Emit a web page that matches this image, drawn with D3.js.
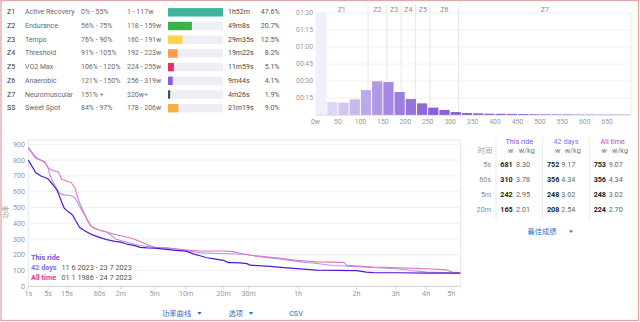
<!DOCTYPE html>
<html><head><meta charset="utf-8">
<script src="https://cdn.jsdelivr.net/npm/d3@7/dist/d3.min.js"></script>
<style>
html,body{margin:0;padding:0;background:#fff;overflow:hidden;}
svg{display:block;font-family:Roboto,"Noto Sans CJK SC",sans-serif;}
</style></head><body>
<svg id="chart" width="640" height="322"></svg>
<script>
// ---- zone summary ----
const zoneCodes = ["Z1","Z2","Z3","Z4","Z5","Z6","Z7","SS"];
const zoneNames = ["Active Recovery","Endurance","Tempo","Threshold","VO2 Max","Anaerobic","Neuromuscular","Sweet Spot"];
const zoneRanges = ["0% - 55%","56% - 75%","76% - 90%","91% - 105%","106% - 120%","121% - 150%","151% +","84% - 97%"];
const zoneWatts = ["1 - 117w","118 - 159w","160 - 191w","192 - 223w","224 - 255w","256 - 319w","320w+","178 - 206w"];
const zoneTimes = ["1h52m","49m8s","29m35s","19m22s","11m59s","9m44s","4m26s","21m19s"];
const zoneShare = [47.6,20.7,12.5,8.2,5.1,4.1,1.9,9.0];
const zoneColors = ["#3fb59b","#3bb249","#f9d648","#f99b4d","#e2306b","#8b5bd9","#4c4c68","#f8b045"];

// ---- power histogram (minutes per 25w bin) ----
const binWidth = 25;
const binStarts = [25,50,75,100,125,150,175,200,225,250,275,300,325,350,375,400,425,450,475,500,525,550,575,600,625,650,675];
const binMinutes = [11.5,10.9,13.8,22,29.7,29.1,20.3,14.1,10.3,6.5,4.4,2.6,1.8,1.5,1.2,1.1,1.0,0.9,0.7,0.6,0.5,0.5,0.4,0.4,0.3,0.3,0.3];
const coastMinutes = 95;
const zoneBounds = [117,159,191,223,255,319];
const histZoneLabels = ["Z1","Z2","Z3","Z4","Z5","Z6","Z7"];
const histYTicks = [15,30,45,60,75,90];
const histYLabels = ["00:15","00:30","00:45","01:00","01:15","01:30"];
const histXTicks = [0,50,100,150,200,250,300,350,400,450,500,550,600,650];
const histXLabels = ["0w","50","100","150","200","250","300","350","400","450","500","550","600","650"];

// ---- power curves (seconds, watts) ----
const rideTimes = [1,2,3,4,5,6,7,8.6,10,11.5,13,15,17.5,20,22,24,27,31,37,45,54,60,77,101,120,144,180,208,250,300,397,480,600,692,800,892,1000,1132,1200,1300,1413,1574,1752,1840,2470,3000,3552,4566,5783,7228,8000,8622,10910,14487,18100,19450];
const rideWatts = [800,720,700,690,681,660,641,612,572,530,495,480,465,450,425,405,375,360,344,328,317,310,296,285,280,268,258,247,244,242,234,228,223,206,192,181,175,168,165,150,150,148,144,134,126,118,112,103,101,99,90,87,86,84,84,83];
const days42Times = [1,2,3,4,5,5.5,6.5,8.6,10.3,13,17.5,20,22.3,25,27.7,32,36.7,41,45,50,60,77,90,101,120,144,207,300,460,600,789,1200,1752,2042,2800,3552,4566,5547,8040,10910,12500,14487,18100,19450];
const days42Watts = [875,811,800,790,752,712,673,620,588,580,576,570,557,530,503,465,429,400,376,370,356,344,322,302,290,280,259,248,238,227,212,208,202,189,174,158,145,132,121,111,100,90,86,84];
const allTimeTimes = [1,2,3,4,5,6,7,9.3,10.5,11.4,13.4,16,18.4,22.3,25.8,31.4,37.8,44,47.6,60,77,101,130,173,256,300,397,600,789,1200,1400,1574,1840,2700,3552,4566,6230,6474,8622,11255,14487,17300,18100,19450];
const allTimeWatts = [881,818,800,785,753,740,733,726,700,678,673,662,660,620,546,482,418,380,372,356,344,329,317,302,262,248,245,230,224,224,220,210,197,181,165,155,152,133,122,117,111,104,90,84];
const curveXTicks = [1,5,15,60,120,300,600,1200,1800,3600,7200,10800,14400,18000];
const curveXLabels = ["1s","5s","15s","60s","2m","5m","10m","20m","30m","1h","2h","3h","4h","5h"];
const curveYTicks = [0,100,200,300,400,500,600,700,800,900];

// ---- best efforts table ----
const bestDurations = ["5s","60s","5m","20m"];
const bestRide = [[681,"8.30"],[310,"3.78"],[242,"2.95"],[165,"2.01"]];
const best42 = [[752,"9.17"],[356,"4.34"],[248,"3.02"],[208,"2.54"]];
const bestAll = [[753,"9.07"],[356,"4.34"],[248,"3.02"],[224,"2.70"]];

const C_RIDE = "#5416d2", C_42 = "#a89af0", C_ALL = "#e276bd";
const T_RIDE = "#7a56d8", T_42 = "#8274e6", T_ALL = "#d23ba2";

const svg = d3.select("#chart");

// outer frame
svg.append("rect").attr("x",1).attr("y",0.5).attr("width",637.5).attr("height",320)
  .attr("fill","none").attr("stroke","#e2a8a8").attr("stroke-width",1.3);

// ===== zone table =====
const rowY = i => 12.3 + i*13.7;
const zt = svg.append("g").attr("font-size",7).attr("dominant-baseline","central");
const barScale = d3.scaleLinear().domain([0,d3.max(zoneShare)]).range([0,55]);
zoneCodes.forEach((c,i)=>{
  const y = rowY(i);
  zt.append("text").attr("x",7).attr("y",y).attr("fill","#333").text(c);
  zt.append("text").attr("x",25).attr("y",y).attr("fill","#6a6a6a").text(zoneNames[i]);
  zt.append("text").attr("x",81).attr("y",y).attr("fill","#6a6a6a").text(zoneRanges[i]);
  zt.append("text").attr("x",127).attr("y",y).attr("fill","#6a6a6a").text(zoneWatts[i]);
  zt.append("rect").attr("x",168).attr("y",y-4.2).attr("width",55).attr("height",8.4).attr("fill","#eeeef7");
  zt.append("rect").attr("x",168).attr("y",y-4.2).attr("width",barScale(zoneShare[i])).attr("height",8.4).attr("fill",zoneColors[i]);
  zt.append("text").attr("x",228).attr("y",y).attr("fill","#444").text(zoneTimes[i]);
  zt.append("text").attr("x",279.5).attr("y",y).attr("text-anchor","end").attr("fill","#555").text(zoneShare[i].toFixed(1)+"%");
});

// ===== histogram =====
const hx = d3.scaleLinear().domain([0,703]).range([315.5,631]);
const hy = d3.scaleLinear().domain([0,90]).range([115,13]);
const hg = svg.append("g");
hg.selectAll(".hgrid").data(histYTicks).join("line")
  .attr("x1",315.5).attr("x2",631).attr("y1",d=>hy(d)).attr("y2",d=>hy(d))
  .attr("stroke","#ececec").attr("stroke-width",0.8);
hg.append("line").attr("x1",631).attr("x2",631).attr("y1",13).attr("y2",115).attr("stroke","#e4e4e4").attr("stroke-width",0.8);
hg.append("rect").attr("x",hx(0)).attr("y",hy(Math.min(coastMinutes,90)))
  .attr("width",hx(binWidth)-hx(0)).attr("height",hy(0)-hy(Math.min(coastMinutes,90))).attr("fill","#f1eff9");
hg.selectAll(".zl").data(zoneBounds).join("line")
  .attr("x1",d=>hx(d)).attr("x2",d=>hx(d)).attr("y1",5).attr("y2",115)
  .attr("stroke","#e0e0e0").attr("stroke-width",0.8);
const zoneEdges = [0,...zoneBounds,703];
hg.selectAll(".zt").data(histZoneLabels).join("text")
  .attr("x",(d,i)=>(hx(zoneEdges[i])+hx(zoneEdges[i+1]))/2).attr("y",9.5)
  .attr("text-anchor","middle").attr("dominant-baseline","central")
  .attr("font-size",7).attr("fill","#8a8a8a").text(d=>d);
const binColor = d3.scaleLinear().domain([37,112,160,260]).range(["#dfd7f4","#bda9ea","#a68ae3","#8b5fd9"]).clamp(true);
hg.selectAll(".bar").data(binStarts).join("rect")
  .attr("x",d=>hx(d)+0.5).attr("width",d=>hx(d+binWidth)-hx(d)-1)
  .attr("y",(d,i)=>hy(binMinutes[i])).attr("height",(d,i)=>hy(0)-hy(binMinutes[i]))
  .attr("fill",d=>binColor(d+12.5));
hg.append("line").attr("x1",315.5).attr("x2",631).attr("y1",115.3).attr("y2",115.3).attr("stroke","#d8d8d8").attr("stroke-width",0.8);
hg.selectAll(".hyl").data(histYTicks).join("text")
  .attr("x",313).attr("y",d=>hy(d)).attr("text-anchor","end").attr("dominant-baseline","central")
  .attr("font-size",6.8).attr("fill","#999").text((d,i)=>histYLabels[i]);
hg.selectAll(".hxl").data(histXTicks).join("text")
  .attr("x",d=>hx(d)).attr("y",122).attr("text-anchor","middle").attr("dominant-baseline","central")
  .attr("font-size",6.8).attr("fill","#999").text((d,i)=>histXLabels[i]);

// ===== power curve =====
const x = d3.scalePow().exponent(0.25).domain([1,19520]).range([28.3,460.7]);
const y = d3.scaleLinear().domain([0,928]).range([286.3,140]);
const pg = svg.append("g");
pg.selectAll(".g").data(curveYTicks.slice(1)).join("line")
  .attr("x1",28.3).attr("x2",460.7).attr("y1",d=>y(d)).attr("y2",d=>y(d))
  .attr("stroke","#ececec").attr("stroke-width",0.8);
pg.append("rect").attr("x",28.3).attr("y",140).attr("width",432.4).attr("height",146.3)
  .attr("fill","none").attr("stroke","#e2e2e2").attr("stroke-width",0.8);
pg.append("line").attr("x1",28.3).attr("x2",460.7).attr("y1",286.3).attr("y2",286.3).attr("stroke","#d0d0d0").attr("stroke-width",0.8);
pg.selectAll(".xt").data(curveXTicks).join("line")
  .attr("x1",d=>x(d)).attr("x2",d=>x(d)).attr("y1",286.3).attr("y2",289.5)
  .attr("stroke","#d0d0d0").attr("stroke-width",0.8);
pg.selectAll(".yl").data(curveYTicks).join("text")
  .attr("x",25).attr("y",d=>y(d)).attr("text-anchor","end").attr("dominant-baseline","central")
  .attr("font-size",7.2).attr("fill","#9a9a9a").text(d=>d);
pg.selectAll(".xl").data(curveXTicks).join("text")
  .attr("x",d=>x(d)).attr("y",293.5).attr("text-anchor","middle").attr("dominant-baseline","central")
  .attr("font-size",7.2).attr("fill","#9a9a9a").text((d,i)=>curveXLabels[i]);
pg.append("text").attr("transform","translate(6,212) rotate(-90)").attr("text-anchor","middle")
  .attr("dominant-baseline","central").attr("font-size",6.5).attr("fill","#9a9a9a").text("功率");

const line = d3.line().x(d=>x(d[0])).y(d=>y(d[1]));
const series = [
  {t:days42Times,w:days42Watts,c:C_42,sw:1.1},
  {t:allTimeTimes,w:allTimeWatts,c:C_ALL,sw:1.1},
  {t:rideTimes,w:rideWatts,c:C_RIDE,sw:1.2}
];
series.forEach(s=>{
  pg.append("path").datum(d3.zip(s.t,s.w)).attr("d",line)
    .attr("fill","none").attr("stroke",s.c).attr("stroke-width",s.sw).attr("stroke-linejoin","round");
});

// legend
const lg = pg.append("g").attr("font-size",7.3).attr("dominant-baseline","central");
lg.append("rect").attr("x",29).attr("y",251).attr("width",100).attr("height",33).attr("fill","#fff").attr("opacity",0.85);
lg.append("text").attr("x",31).attr("y",257.8).attr("fill",T_RIDE).attr("font-weight","bold").text("This ride");
lg.append("text").attr("x",31).attr("y",267.8).attr("fill",T_42).attr("font-weight","bold").text("42 days");
lg.append("text").attr("x",31).attr("y",277.8).attr("fill",T_ALL).attr("font-weight","bold").text("All time");
lg.append("text").attr("x",61.5).attr("y",267.8).attr("fill","#555").text("11 6 2023 - 23 7 2023");
lg.append("text").attr("x",61.5).attr("y",277.8).attr("fill","#555").text("01 1 1986 - 24 7 2023");

// ===== best efforts table =====
const bt = svg.append("g").attr("font-size",7.2).attr("dominant-baseline","central");
[[519.3,"This ride",T_RIDE],[566,"42 days",T_42],[612.7,"All time",T_ALL]].forEach(h=>{
  bt.append("text").attr("x",h[0]).attr("y",141.7).attr("text-anchor","middle").attr("fill",h[2]).text(h[1]);
});
bt.append("text").attr("x",485).attr("y",150.7).attr("text-anchor","middle").attr("fill","#999").text("时间");
[[510.7,"w"],[526.7,"w/kg"],[557.7,"w"],[572.7,"w/kg"],[604.3,"w"],[620,"w/kg"]].forEach(h=>{
  bt.append("text").attr("x",h[0]).attr("y",150.7).attr("text-anchor","middle").attr("fill","#777").text(h[1]);
});
[496,542.7,589.3].forEach(xx=>{
  bt.append("line").attr("x1",xx).attr("x2",xx).attr("y1",138).attr("y2",220).attr("stroke","#e6e6e6").attr("stroke-width",0.8);
});
const rowsY = [164,179,194.3,209.8];
bestDurations.forEach((d,i)=>{
  const yy = rowsY[i];
  bt.append("text").attr("x",491).attr("y",yy).attr("text-anchor","end").attr("fill","#888").text(d);
  [[bestRide,512.7,530],[best42,559.3,575.3],[bestAll,606,622.7]].forEach(col=>{
    bt.append("text").attr("x",col[1]).attr("y",yy).attr("text-anchor","end").attr("fill","#222").attr("font-weight","bold").text(col[0][i][0]);
    bt.append("text").attr("x",col[2]).attr("y",yy).attr("text-anchor","end").attr("fill","#666").text(col[0][i][1]);
  });
});
// dropdown triangle helper
function caret(g,cx,cy,col){
  g.append("path").attr("d",`M${cx-2.2},${cy-1.2}L${cx+2.2},${cy-1.2}L${cx},${cy+1.4}Z`).attr("fill",col);
}
const BLUE = "#2f72c4";
bt.append("text").attr("x",542).attr("y",231.7).attr("text-anchor","middle").attr("fill",BLUE).text("最佳成绩");
caret(bt,571,231.7,BLUE);

// ===== bottom controls =====
const bc = svg.append("g").attr("font-size",7.3).attr("dominant-baseline","central").attr("fill",BLUE);
bc.append("text").attr("x",162).attr("y",313.3).text("功率曲线");
caret(bc,199.5,313.3,BLUE);
bc.append("text").attr("x",228.5).attr("y",313.3).text("选项");
caret(bc,251,313.3,BLUE);
bc.append("text").attr("x",296).attr("y",313.3).attr("text-anchor","middle").text("CSV");
</script>
</body></html>
